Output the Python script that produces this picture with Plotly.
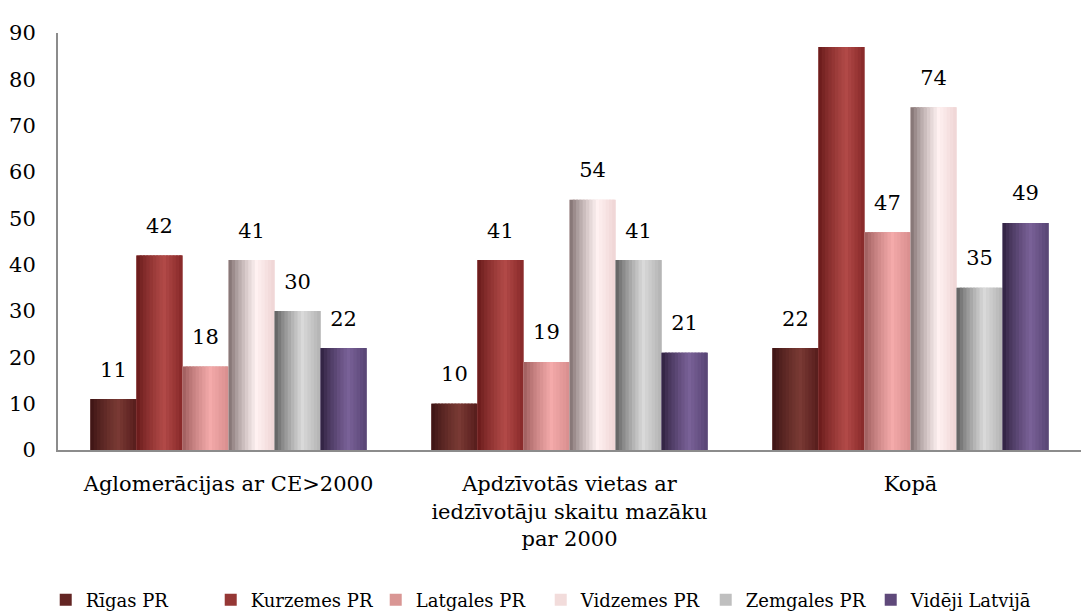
import plotly.graph_objects as go

categories = ["Aglomerācijas ar CE>2000",
              "Apdzīvotās vietas ar<br>iedzīvotāju skaitu mazāku<br>par 2000",
              "Kopā"]
series_names = ["Rīgas PR", "Kurzemes PR", "Latgales PR", "Vidzemes PR", "Zemgales PR", "Vidēji Latvijā"]
rigas = [11, 10, 22]
kurzemes = [42, 41, 87]
latgales = [18, 19, 47]
vidzemes = [41, 54, 74]
zemgales = [30, 41, 35]
videji = [22, 21, 49]
values = [rigas, kurzemes, latgales, vidzemes, zemgales, videji]

legend_colors = ["#632523", "#953735", "#D99694", "#F2DCDB", "#BFBFBF", "#5F497A"]
# (left edge, highlight, right edge) for the cylinder-like shading
shades = [
    ("#3a1212", "#7a3a34", "#561c1c"),
    ("#651818", "#b24a48", "#862828"),
    ("#9a5a5a", "#f4aaaa", "#d88e8e"),
    ("#7a6a6a", "#fff2f2", "#eed4d4"),
    ("#5a5a5a", "#dadada", "#b2b2b2"),
    ("#2c1e3c", "#7a6298", "#574474"),
]

FONT = "DejaVu Serif"

def hex2rgb(h):
    h = h.lstrip("#")
    return [int(h[i:i + 2], 16) for i in (0, 2, 4)]

def mix(a, b, t):
    ca, cb = hex2rgb(a), hex2rgb(b)
    return "rgb(%d,%d,%d)" % tuple(round(ca[k] + (cb[k] - ca[k]) * t) for k in range(3))

def shade_at(s, t):
    left, hi, right = s
    peak = 0.6
    if t <= peak:
        return mix(left, hi, (t / peak) ** 0.8)
    return mix(hi, right, (t - peak) / (1 - peak))

group_frac = 0.81
n_series = len(series_names)
bw = group_frac / n_series
N = 14
xs = list(range(len(categories)))

fig = go.Figure()
for i, (name, vals) in enumerate(zip(series_names, values)):
    off0 = -group_frac / 2 + i * bw
    fig.add_trace(go.Bar(x=xs, y=vals, name=name, offset=off0, width=bw,
                         marker=dict(color=legend_colors[i], line=dict(width=0)),
                         showlegend=True, hoverinfo="skip"))
    step = bw / N
    for j in range(N):
        t = (j + 0.5) / N
        w = step * 1.6 if j < N - 1 else step
        fig.add_trace(go.Bar(x=xs, y=vals, offset=off0 + j * step, width=w,
                             marker=dict(color=shade_at(shades[i], t), line=dict(width=0)),
                             showlegend=False, hoverinfo="skip"))
    fig.add_trace(go.Scatter(x=[x + off0 + bw / 2 for x in xs], y=vals, mode="markers+text",
                             text=[str(v) for v in vals], textposition="top center",
                             marker=dict(size=26, opacity=0),
                             textfont=dict(family=FONT, size=21, color="black"),
                             showlegend=False, hoverinfo="skip"))

fig.update_layout(
    width=1081, height=614,
    barmode="overlay",
    paper_bgcolor="white", plot_bgcolor="white",
    margin=dict(l=58, r=0, t=33, b=164, autoexpand=False),
    font=dict(family=FONT, size=20, color="black"),
    showlegend=True,
    legend=dict(orientation="h", x=-0.012, xanchor="left", y=-0.36, yanchor="middle",
                font=dict(family=FONT, size=18, color="black"),
                itemwidth=30, entrywidth=120, traceorder="normal"),
)
fig.update_xaxes(range=[-0.5, len(categories) - 0.5], tickmode="array", tickvals=xs, ticktext=categories,
                 showline=True, linecolor="#8c8c8c", linewidth=2, showgrid=False, zeroline=False,
                 ticks="", ticklabelstandoff=14, tickfont=dict(size=21))
fig.update_yaxes(range=[0, 90], dtick=10, showline=True, linecolor="#8c8c8c", linewidth=2,
                 showgrid=False, zeroline=False, ticks="", ticklabelstandoff=16,
                 tickfont=dict(size=21))

fig.write_html("out.html", config={"displayModeBar": False},
               post_script="document.body.style.margin='0';document.body.style.overflow='hidden';")
